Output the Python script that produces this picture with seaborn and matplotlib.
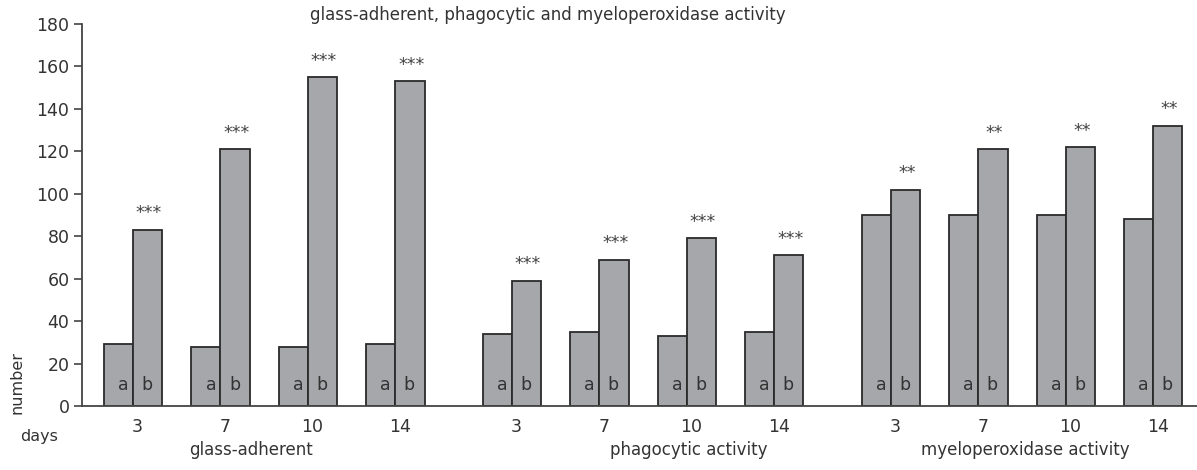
import matplotlib
matplotlib.use("Agg")
import matplotlib.pyplot as plt
import seaborn as sns
import pandas as pd
import numpy as np

# ---- data ----
sections = ["glass-adherent", "phagocytic activity", "myeloperoxidase activity"]
days = ["3", "7", "10", "14"]
glass_a = [29, 28, 28, 29]
glass_b = [83, 121, 155, 153]
phago_a = [34, 35, 33, 35]
phago_b = [59, 69, 79, 71]
myelo_a = [90, 90, 90, 88]
myelo_b = [102, 121, 122, 132]
significance = ["***", "***", "**"]
title_text = "glass-adherent, phagocytic and myeloperoxidase activity"
y_ticks = [0, 20, 40, 60, 80, 100, 120, 140, 160, 180]

series_a = [glass_a, phago_a, myelo_a]
series_b = [glass_b, phago_b, myelo_b]

# ---- layout ----
group_step = 3
section_step = 13
rows = []
for s_i, sec in enumerate(sections):
    for d_i, d in enumerate(days):
        c = s_i * section_step + d_i * group_step
        rows.append({"pos": c - 0.5, "value": series_a[s_i][d_i], "grp": "a",
                     "sec": s_i, "center": c})
        rows.append({"pos": c + 0.5, "value": series_b[s_i][d_i], "grp": "b",
                     "sec": s_i, "center": c})
df = pd.DataFrame(rows)

sns.set_theme(style="white")
plt.rcParams["font.family"] = ["DejaVu Sans"]
txt = "#333333"
fill = "#a6a7ab"
edge = "#2a2a2a"

fig = plt.figure(figsize=(11.97, 4.70), dpi=100)
ax = fig.add_axes([82 / 1197, 64 / 470, (1197 - 82) / 1197, 382 / 470])

sns.barplot(data=df, x="pos", y="value", native_scale=True, width=1.0,
            color=fill, edgecolor=edge, linewidth=1.3, saturation=1,
            errorbar=None, ax=ax)

ax.set_xlim(-1.75, 36.5)
ax.set_ylim(0, 180)
ax.set_yticks(y_ticks)
ax.set_yticklabels([str(t) for t in y_ticks], fontsize=12.5, color=txt)
centers = [s * section_step + d * group_step for s in range(3) for d in range(4)]
ax.set_xticks([c + 0.15 for c in centers])
ax.set_xticklabels(days * 3, fontsize=12.5, color=txt)
ax.tick_params(axis="x", length=0, pad=9)
ax.tick_params(axis="y", length=6, width=1.2, color="#444444", pad=3, left=True)
for side in ["top", "right"]:
    ax.spines[side].set_visible(False)
for side in ["left", "bottom"]:
    ax.spines[side].set_color("#444444")
    ax.spines[side].set_linewidth(1.3)
ax.set_xlabel("")
ax.set_ylabel("")

# letters and significance marks
for _, r in df.iterrows():
    if r["grp"] == "a":
        ax.text(r["pos"] + 0.17, 10, "a", ha="center", va="center",
                fontsize=12.5, color=txt)
    else:
        ax.text(r["pos"] - 0.02, 10, "b", ha="center", va="center",
                fontsize=12.5, color=txt)
        ax.text(r["pos"] + 0.05, r["value"] + 3.5, significance[int(r["sec"])],
                ha="center", va="bottom", fontsize=12.5, color="#444444")

# section labels
sec_label_x = [4.05, 19.05, 30.6]
for lx, lab in zip(sec_label_x, sections):
    ax.text(lx, -20.5, lab, ha="center", va="center", fontsize=12, color=txt,
            transform=ax.transData, clip_on=False)

fig.text(548 / 1197, 1 - 15 / 470, title_text, ha="center", va="center",
         fontsize=12, color=txt)
fig.text(17 / 1197, 1 - 382 / 470, "number", rotation=90, ha="center",
         va="center", fontsize=11.5, color=txt)
fig.text(39 / 1197, 1 - 437 / 470, "days", ha="center", va="center",
         fontsize=11.5, color=txt)

fig.savefig("out.png", dpi=100)
